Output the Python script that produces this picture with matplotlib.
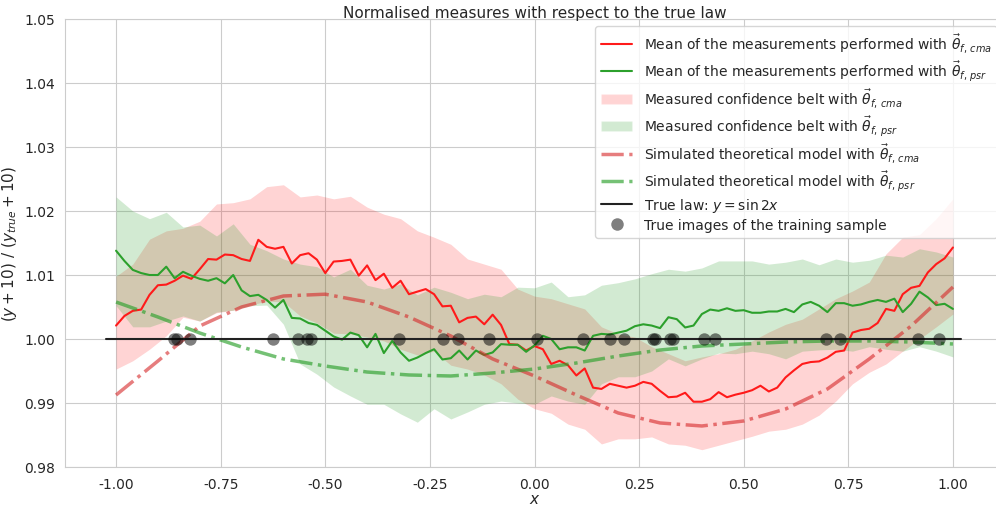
import numpy as np
import matplotlib
matplotlib.use('Agg')
import matplotlib.pyplot as plt
import seaborn as sns
from matplotlib.lines import Line2D
from matplotlib.patches import Patch

sns.set_style('whitegrid')

# mean curves, 101 points from -1 to 1 (step 0.02)
x_mean = np.linspace(-1, 1, 101)
mean_cma = [1.0021, 1.0036, 1.0044, 1.0046, 1.0069, 1.0084, 1.0085, 1.0091, 1.0099, 1.0094,
            1.0109, 1.0125, 1.0124, 1.0132, 1.0131, 1.0125, 1.0122, 1.0155, 1.0144, 1.0141,
            1.0144, 1.0118, 1.0131, 1.0134, 1.0124, 1.0103,
            1.0121, 1.0122, 1.0124, 1.0099, 1.0115, 1.0092, 1.0102, 1.0080, 1.0091, 1.0070,
            1.0074, 1.0078, 1.0070, 1.0051, 1.0052, 1.0026, 1.0033, 1.0035, 1.0023, 1.0038,
            1.0022, 0.9992, 0.9991, 0.9982, 0.9989,
            0.9984, 0.9961, 0.9966, 0.9959, 0.9943, 0.9954, 0.9924, 0.9922, 0.9930, 0.9927,
            0.9924, 0.9927, 0.9933, 0.9930, 0.9919, 0.9909, 0.9910, 0.9916, 0.9902, 0.9902,
            0.9906, 0.9917, 0.9909, 0.9913, 0.9916,
            0.9920, 0.9927, 0.9918, 0.9924, 0.9940, 0.9951, 0.9961, 0.9964, 0.9965, 0.9971,
            0.9980, 0.9982, 1.0010, 1.0014, 1.0016, 1.0025, 1.0047, 1.0044, 1.0070, 1.0080,
            1.0083, 1.0104, 1.0117, 1.0126, 1.0143]
mean_psr = [1.0138, 1.0122, 1.0108, 1.0103, 1.0100, 1.0100, 1.0113, 1.0095, 1.0105, 1.0099,
            1.0094, 1.0091, 1.0095, 1.0087, 1.0100, 1.0076, 1.0067, 1.0069, 1.0061, 1.0049,
            1.0061, 1.0033, 1.0032, 1.0025, 1.0022, 1.0013,
            1.0004, 0.9999, 1.0010, 1.0006, 0.9987, 1.0008, 0.9978, 0.9997, 0.9979, 0.9966,
            0.9971, 0.9978, 0.9984, 0.9968, 0.9970, 0.9982, 0.9968, 0.9982, 0.9975, 0.9979,
            0.9992, 0.9991, 0.9991, 0.9980, 0.9990,
            1.0005, 1.0000, 0.9984, 0.9987, 0.9987, 0.9982, 1.0005, 1.0008, 1.0007, 1.0010,
            1.0013, 1.0020, 1.0023, 1.0021, 1.0017, 1.0034, 1.0031, 1.0018, 1.0021, 1.0039,
            1.0046, 1.0044, 1.0048, 1.0044, 1.0045,
            1.0041, 1.0041, 1.0043, 1.0043, 1.0047, 1.0042, 1.0054, 1.0058, 1.0052, 1.0042,
            1.0056, 1.0056, 1.0052, 1.0054, 1.0058, 1.0061, 1.0058, 1.0063, 1.0042, 1.0055,
            1.0074, 1.0065, 1.0053, 1.0055, 1.0047]

# confidence belts, 51 points (step 0.04)
x_band = np.linspace(-1, 1, 51)
cma_up = [1.0098, 1.0117, 1.0156, 1.0169, 1.0173, 1.0184, 1.0211, 1.0213, 1.0219, 1.0238,
          1.0241, 1.0222, 1.0225, 1.0219, 1.0223, 1.0206, 1.0195, 1.0188, 1.0169, 1.0159,
          1.0148, 1.0125, 1.0117, 1.0109, 1.0078, 1.0067, 1.0063, 1.0055, 1.0047, 1.0019,
          1.0008, 1.0003, 0.9988, 0.9977, 0.9966, 0.9972, 0.9977, 0.9984, 0.9997, 1.0011,
          1.0023, 1.0031, 1.0047, 1.0063, 1.0075, 1.0089, 1.0133, 1.0159, 1.0163, 1.0188, 1.0219]
cma_low = [0.9953, 0.9966, 0.9984, 1.0005, 1.0034, 1.0028, 1.0041, 1.0045, 1.0053, 1.0059,
           1.0058, 1.0036, 1.0025, 1.0009, 1.0008, 1.0003, 0.9997, 0.9984, 0.9975, 0.9981,
           0.9959, 0.9953, 0.9944, 0.9930, 0.9906, 0.9891, 0.9884, 0.9867, 0.9859, 0.9836,
           0.9844, 0.9844, 0.9847, 0.9836, 0.9834, 0.9827, 0.9834, 0.9841, 0.9848, 0.9856,
           0.9859, 0.9867, 0.9881, 0.9903, 0.9930, 0.9948, 0.9961, 0.9981, 1.0000, 1.0019, 1.0039]
psr_up = [1.0222, 1.0200, 1.0188, 1.0198, 1.0175, 1.0178, 1.0161, 1.0180, 1.0148, 1.0138,
          1.0125, 1.0117, 1.0113, 1.0097, 1.0109, 1.0084, 1.0078, 1.0086, 1.0069, 1.0081,
          1.0073, 1.0063, 1.0070, 1.0066, 1.0081, 1.0080, 1.0089, 1.0066, 1.0069, 1.0084,
          1.0088, 1.0094, 1.0102, 1.0109, 1.0106, 1.0111, 1.0122, 1.0122, 1.0122, 1.0117,
          1.0120, 1.0125, 1.0116, 1.0125, 1.0120, 1.0123, 1.0131, 1.0128, 1.0141, 1.0136, 1.0128]
psr_low = [1.0052, 1.0019, 1.0019, 1.0028, 1.0036, 1.0028, 1.0042, 1.0045, 1.0052, 1.0053,
           1.0023, 0.9961, 0.9945, 0.9925, 0.9911, 0.9898, 0.9898, 0.9883, 0.9870, 0.9891,
           0.9875, 0.9886, 0.9898, 0.9903, 0.9900, 0.9898, 0.9911, 0.9903, 0.9898, 0.9930,
           0.9941, 0.9941, 0.9950, 0.9969, 0.9958, 0.9969, 0.9978, 0.9977, 0.9981, 0.9977,
           0.9969, 0.9981, 0.9983, 0.9984, 0.9981, 0.9988, 0.9984, 0.9981, 0.9988, 0.9981, 0.9972]

# simulated theoretical models, step 0.1
x_model = np.linspace(-1, 1, 21)
model_cma = [0.99125, 0.99656, 1.00203, 1.0050, 1.00672, 1.0070, 1.00578, 1.00344, 1.00047, 0.99688,
             0.99422, 0.99125, 0.98844, 0.98688, 0.98641, 0.98719, 0.98906, 0.99219, 0.99688,
             1.00203, 1.00813]
model_psr = [1.00578, 1.00344, 1.00094, 0.99875, 0.99688, 0.99578, 0.99484, 0.99438, 0.99422,
             0.99469, 0.99531, 0.99625, 0.99734, 0.99828, 0.99891, 0.99922, 0.99953, 0.99969,
             0.99969, 0.99953, 0.99922]

# training sample abscissas
x_train = [-0.862, -0.854, -0.824, -0.624, -0.565, -0.543, -0.535, -0.325, -0.218, -0.184,
           -0.108, 0.006, 0.116, 0.181, 0.213, 0.282, 0.289, 0.324, 0.331, 0.404, 0.432,
           0.696, 0.731, 0.916, 0.967]
x_true = [-1.025, 1.02]

fig = plt.figure(figsize=(9.96, 5.1), dpi=100)
ax = fig.add_axes([65 / 996, 42 / 510, 939 / 996, 448 / 510])

ax.fill_between(x_band, cma_low, cma_up, color='red', alpha=0.17, lw=0)
ax.fill_between(x_band, psr_low, psr_up, color='tab:green', alpha=0.21, lw=0)
ax.plot(x_mean, mean_cma, color='#ff1a1a', lw=1.5)
ax.plot(x_mean, mean_psr, color='tab:green', lw=1.5)
ax.plot(x_model, model_cma, '-.', color='tab:red', alpha=0.6, lw=2.5)
ax.plot(x_model, model_psr, '-.', color='tab:green', alpha=0.65, lw=2.5)
ax.plot(x_true, [1, 1], color='#222222', lw=1.5)
ax.scatter(x_train, np.ones(len(x_train)), s=80, color='black', alpha=0.5, lw=0, zorder=5)

ax.set_xlim(-1.122, 1.122)
ax.set_ylim(0.98, 1.05)
ax.set_yticks(np.arange(0.98, 1.0501, 0.01))
ax.yaxis.set_major_formatter(matplotlib.ticker.FormatStrFormatter('%.2f'))
ax.set_xticks([-1, -0.75, -0.5, -0.25, 0, 0.25, 0.5, 0.75, 1])
ax.xaxis.set_major_formatter(matplotlib.ticker.FormatStrFormatter('%.2f'))
ax.tick_params(labelsize=10)
ax.set_xlabel('$x$', fontsize=11, labelpad=0)
ax.set_ylabel('$(y + 10)\\ /\\ (y_{true} + 10)$', fontsize=11)
ax.set_title('Normalised measures with respect to the true law', fontsize=11, pad=1.5)

handles = [
    Line2D([], [], color='#ff1a1a', lw=1.5),
    Line2D([], [], color='tab:green', lw=1.5),
    Patch(facecolor='red', alpha=0.17),
    Patch(facecolor='tab:green', alpha=0.21),
    Line2D([], [], ls='-.', color='tab:red', alpha=0.6, lw=2.5),
    Line2D([], [], ls='-.', color='tab:green', alpha=0.65, lw=2.5),
    Line2D([], [], color='#222222', lw=1.5),
    Line2D([], [], ls='', marker='o', markersize=9, color='black', alpha=0.5, mew=0),
]
labels = [
    r'Mean of the measurements performed with $\vec{\theta}_{f,\, cma}$',
    r'Mean of the measurements performed with $\vec{\theta}_{f,\, psr}$',
    r'Measured confidence belt with $\vec{\theta}_{f,\, cma}$',
    r'Measured confidence belt with $\vec{\theta}_{f,\, psr}$',
    r'Simulated theoretical model with $\vec{\theta}_{f,\, cma}$',
    r'Simulated theoretical model with $\vec{\theta}_{f,\, psr}$',
    r'True law: $y = \sin 2x$',
    'True images of the training sample',
]
ax.legend(handles, labels, loc='upper right', fontsize=10, labelspacing=0.3,
          handlelength=2.3, borderpad=0.4)

fig.savefig('out.png', dpi=100)
